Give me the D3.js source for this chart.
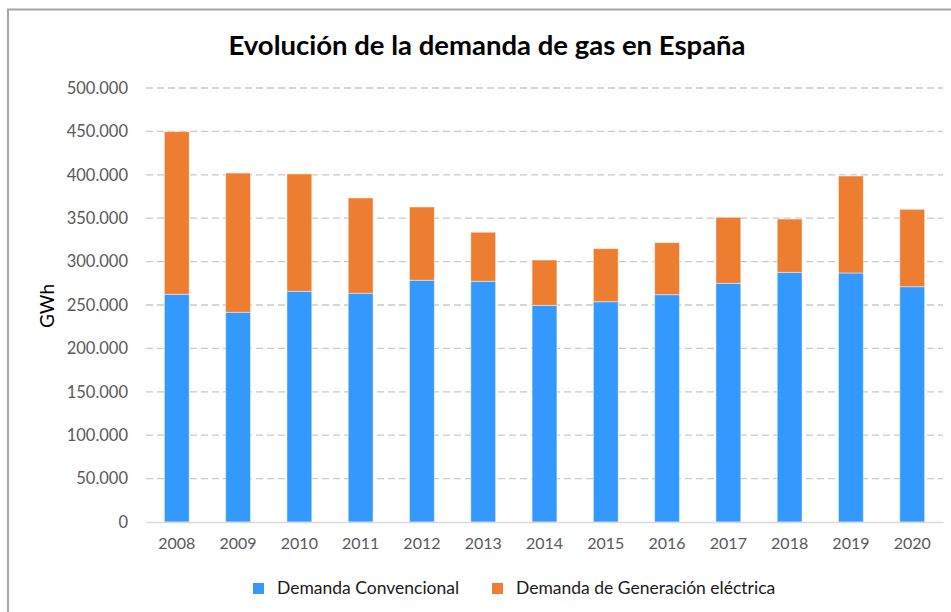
<!DOCTYPE html>
<html>
<head>
<meta charset="utf-8">
<script src="https://cdn.jsdelivr.net/npm/d3@7"></script>
<style>
  html, body { margin: 0; padding: 0; background: #fff; }
  svg { display: block; }
</style>
</head>
<body>
<svg id="chart" width="951" height="612"></svg>
<script>
const years = ["2008","2009","2010","2011","2012","2013","2014","2015","2016","2017","2018","2019","2020"];
const convencional = [262300, 241600, 265800, 263500, 278500, 277300, 249600, 253800, 261900, 275000, 287600, 286900, 271100];
const generacion = [187400, 160400, 135200, 109800, 84400, 56500, 52200, 61100, 59900, 76000, 61400, 111700, 89100];
const yTicks = [0, 50000, 100000, 150000, 200000, 250000, 300000, 350000, 400000, 450000, 500000];
const seriesNames = ["Demanda Convencional", "Demanda de Generación eléctrica"];
const seriesColors = ["#3399FF", "#ED7D31"];
const title = "Evolución de la demanda de gas en España";
const yLabel = "GWh";

(function () {
const svg = d3.select("#chart");
const font = "Lato, 'Open Sans', sans-serif";

// frame
svg.append("rect").attr("x", 8).attr("y", 9.5).attr("width", 960).attr("height", 620)
  .attr("fill", "none").attr("stroke", "#a6a6a6").attr("stroke-width", 2);

const pLeft = 146, pRight = 943, pTop = 88, pBottom = 522;
const x = d3.scaleBand().domain(years).range([pLeft, pRight]).paddingInner(0.595).paddingOuter(0.3);
const y = d3.scaleLinear().domain([0, 500000]).range([pBottom, pTop]);

// gridlines
svg.append("g").selectAll("line").data(yTicks.filter(d => d > 0)).join("line")
  .attr("x1", pLeft).attr("x2", pRight)
  .attr("y1", d => y(d)).attr("y2", d => y(d))
  .attr("stroke", "#c9c9c9").attr("stroke-width", 1.3).attr("stroke-dasharray", "7,4");

// y axis labels
const fmt = v => v === 0 ? "0" : d3.format(",")(v).replace(/,/g, ".");
const yAxis = d3.axisLeft(y).tickValues(yTicks).tickFormat(fmt).tickSize(0).tickPadding(18);
const yg = svg.append("g").attr("transform", `translate(${pLeft},0)`).call(yAxis);
yg.select(".domain").remove();
yg.selectAll("text").attr("font-family", font).attr("font-size", 16.5).attr("fill", "#595959");

// stacked data
const rows = years.map((yr, i) => ({year: yr, conv: convencional[i], gen: generacion[i]}));
const stack = d3.stack().keys(["conv", "gen"])(rows);

svg.append("g").selectAll("g").data(stack).join("g")
  .attr("fill", (d, i) => seriesColors[i])
  .selectAll("rect").data(d => d).join("rect")
  .attr("x", d => x(d.data.year))
  .attr("width", x.bandwidth())
  .attr("y", d => y(d[1]))
  .attr("height", d => y(d[0]) - y(d[1]))
  .attr("stroke", "#ffffff").attr("stroke-opacity", 0.45).attr("stroke-width", 1);

// x axis
const xAxis = d3.axisBottom(x).tickSize(0).tickPadding(16);
const xg = svg.append("g").attr("transform", `translate(0,${pBottom})`).call(xAxis);
xg.select(".domain").attr("stroke", "#d9d9d9").attr("stroke-width", 1.5);
xg.selectAll("text").attr("font-family", font).attr("font-size", 16).attr("fill", "#595959");

// title
svg.append("text").attr("x", 487).attr("y", 55).attr("text-anchor", "middle")
  .attr("font-family", font).attr("font-weight", "bold").attr("font-size", 27.5).attr("fill", "#000")
  .text(title);

// y label
svg.append("text").attr("transform", "translate(54,306) rotate(-90)").attr("text-anchor", "middle")
  .attr("font-family", font).attr("font-size", 19).attr("fill", "#000").text(yLabel);

// legend
const legendX = [253, 492];
const lg = svg.append("g").selectAll("g").data(seriesNames).join("g")
  .attr("transform", (d, i) => `translate(${legendX[i]},583)`);
lg.append("rect").attr("width", 11).attr("height", 11).attr("fill", (d, i) => seriesColors[i]);
lg.append("text").attr("x", 24).attr("y", 11).attr("font-family", font).attr("font-size", 17.5)
  .attr("fill", "#1a1a1a").text(d => d);
})();
</script>
</body>
</html>
